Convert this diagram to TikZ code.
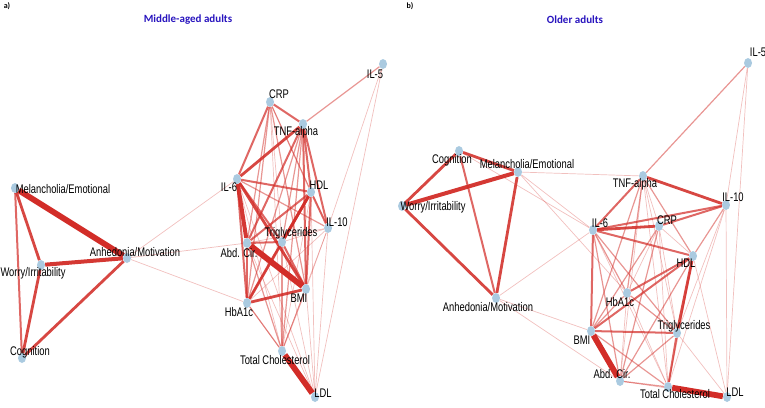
\documentclass[tikz,border=0pt]{standalone}
\usepackage{fontspec}
\setmainfont{Liberation Sans}
\newfontfamily\labfont[FakeStretch=0.75]{Liberation Sans}
\newfontfamily\titlefont{Carlito}
\usepackage{xcolor}
\usepackage{tikz}
\usetikzlibrary{shapes.geometric, backgrounds}

\definecolor{edgered}{RGB}{210,45,40}
\definecolor{nodeblue}{RGB}{170,202,224}
\definecolor{titleblue}{RGB}{40,20,190}

\begin{document}
\begin{tikzpicture}[
  x=1pt, y=-1pt,
  vert/.style={ellipse, fill=nodeblue, minimum width=8pt, minimum height=10pt, inner sep=0pt},
  lbl/.style={font=\labfont\fontsize{12.5}{12.5}\selectfont, inner sep=0pt, text=black},
  ttl/.style={font=\titlefont\bfseries\fontsize{11}{11}\selectfont, text=titleblue, inner sep=0pt},
  tag/.style={font=\titlefont\bfseries\fontsize{8}{8}\selectfont, inner sep=0pt},
  e1/.style={draw=edgered, draw opacity=0.3, line width=0.7pt},
  e2/.style={draw=edgered, draw opacity=0.5, line width=1.2pt},
  e3/.style={draw=edgered, draw opacity=0.72, line width=2pt},
  e4/.style={draw=edgered, draw opacity=0.88, line width=2.8pt},
  e5/.style={draw=edgered, draw opacity=0.95, line width=4pt},
  e6/.style={draw=edgered, line width=5.8pt}
]
\useasboundingbox (0,0) rectangle (765,407);

% panel a
\node[tag] (taga) at (7,6) {a)};
\node[ttl] (ttla) at (188,20) {Middle-aged adults};

\node[vert] (mmel) at (15,188) {};
\node[vert] (mwor) at (41,265) {};
\node[vert] (mcog) at (22,358) {};
\node[vert] (manh) at (127,258) {};
\node[vert] (mil5) at (383,64) {};
\node[vert] (mcrp) at (270,102) {};
\node[vert] (mtnf) at (303,124) {};
\node[vert] (mil6) at (237,179) {};
\node[vert] (mhdl) at (311,192) {};
\node[vert] (mil10) at (328,228) {};
\node[vert] (mtg) at (282,242) {};
\node[vert] (mabd) at (247,243) {};
\node[vert] (mbmi) at (306,289) {};
\node[vert] (mhba) at (247,303) {};
\node[vert] (mtc) at (282,351) {};
\node[vert] (mldl) at (315,397) {};

\node[lbl] (mmel-t) at (63,189) {Melancholia/Emotional};
\node[lbl] (mwor-t) at (33,273) {Worry/Irritability};
\node[lbl] (mcog-t) at (30,352) {Cognition};
\node[lbl] (manh-t) at (135,252) {Anhedonia/Motivation};
\node[lbl] (mil5-t) at (375,74) {IL-5};
\node[lbl] (mcrp-t) at (279,94) {CRP};
\node[lbl] (mtnf-t) at (296,132) {TNF-alpha};
\node[lbl] (mil6-t) at (229,187) {IL-6};
\node[lbl] (mhdl-t) at (319,185) {HDL};
\node[lbl] (mil10-t) at (337,222) {IL-10};
\node[lbl] (mtg-t) at (291,233) {Triglycerides};
\node[lbl] (mabd-t) at (239,253) {Abd. Cir.};
\node[lbl] (mbmi-t) at (299,298) {BMI};
\node[lbl] (mhba-t) at (239,312) {HbA1c};
\node[lbl] (mtc-t) at (275,360) {Total Cholesterol};
\node[lbl] (mldl-t) at (323,393) {LDL};

% panel b
\node[tag] (tagb) at (410,6) {b)};
\node[ttl] (ttlb) at (575,20) {Older adults};

\node[vert] (omel) at (518,172) {};
\node[vert] (owor) at (402,206) {};
\node[vert] (ocog) at (459,151) {};
\node[vert] (oanh) at (496,298) {};
\node[vert] (oil5) at (748,63) {};
\node[vert] (otnf) at (643,176) {};
\node[vert] (oil10) at (726,205) {};
\node[vert] (oil6) at (593,230) {};
\node[vert] (ocrp) at (659,226) {};
\node[vert] (ohdl) at (693,256) {};
\node[vert] (ohba) at (627,293) {};
\node[vert] (obmi) at (591,331) {};
\node[vert] (otg) at (677,333) {};
\node[vert] (oabd) at (620,381) {};
\node[vert] (otc) at (668,387) {};
\node[vert] (oldl) at (727,397) {};

\node[lbl] (omel-t) at (527,164) {Melancholia/Emotional};
\node[lbl] (owor-t) at (433,207) {Worry/Irritability};
\node[lbl] (ocog-t) at (452,160) {Cognition};
\node[lbl] (oanh-t) at (488,307) {Anhedonia/Motivation};
\node[lbl] (oil5-t) at (758,52) {IL-5};
\node[lbl] (otnf-t) at (635,184) {TNF-alpha};
\node[lbl] (oil10-t) at (733,197) {IL-10};
\node[lbl] (oil6-t) at (600,223) {IL-6};
\node[lbl] (ocrp-t) at (667,220) {CRP};
\node[lbl] (ohdl-t) at (686,263) {HDL};
\node[lbl] (ohba-t) at (620,302) {HbA1c};
\node[lbl] (otg-t) at (684,326) {Triglycerides};
\node[lbl] (obmi-t) at (582,340) {BMI};
\node[lbl] (oabd-t) at (612,374) {Abd. Cir.};
\node[lbl] (otc-t) at (675,394) {Total Cholesterol};
\node[lbl] (oldl-t) at (735,392) {LDL};

\begin{scope}[on background layer]
% weak links
\foreach \a/\b in {mil5/mil10, mil5/mldl, manh/mil6, manh/mabd, manh/mhba, mcrp/mtg, mcrp/mil10,
  mil10/mtg, mil10/mabd, mil10/mbmi, mil10/mhba, mil10/mldl, mil10/mtc, mhdl/mldl, mhdl/mtc,
  mil6/mtc, mbmi/mldl, mhba/mldl, mabd/mldl, mtg/mldl, mil6/mldl, mcrp/mtc,
  oil5/oil10, oil5/oldl, omel/otnf, omel/oil6, ocog/oil6, omel/ohba, oanh/oil6, oanh/obmi,
  oanh/oabd, otnf/ocrp, otnf/oabd, otnf/otg, otnf/otc, ocrp/ohdl, ocrp/ohba, ocrp/otg, ocrp/otc,
  oil10/otg, oil10/oldl, oil10/otc, oil6/otc, ohdl/oldl, otg/oldl, ohba/oabd, ohba/otc, oabd/oldl}
  \draw[e1] (\a) -- (\b);
\foreach \a/\b in {mcrp/mabd, mcrp/mhdl, mcrp/mbmi, mcrp/mhba, mtnf/mhba, mtnf/mtg, mil6/mil10,
  mtg/mhba, mbmi/mtc, mhba/mtc, mtg/mtc, mil5/mtnf, mabd/mtc, mtnf/mtc,
  oil6/oabd, oil6/ohba, oil6/otg, ocrp/obmi, ocrp/oabd, otnf/ohdl, ohba/otg, ohba/obmi,
  ohdl/oabd, oabd/otg, obmi/otc, oil10/ohdl, otnf/ohba, oil5/otnf, ohdl/otc, oabd/otc, otnf/obmi}
  \draw[e2] (\a) -- (\b);
\foreach \a/\b in {mmel/mcog, mcrp/mil6, mil6/mhdl, mil6/mtg, mil6/mhba, mtnf/mhdl, mtnf/mabd,
  mcrp/mtnf, mhdl/mabd, mhdl/mbmi, mtg/mabd, mabd/mhba, mtg/mbmi, mtnf/mbmi, mhdl/mil10, mtnf/mil10,
  ocog/oanh, otnf/oil6, oil6/oil10, ocrp/oil10, ohdl/ohba, oil6/obmi, otg/otc, ohdl/obmi,
  obmi/otg, oil6/ohdl}
  \draw[e3] (\a) -- (\b);
% strong links
\foreach \a/\b in {mmel/mwor, mwor/mcog, mcog/manh, mil6/mtnf, mhdl/mhba, mhdl/mtg, mil6/mbmi,
  mbmi/mhba, ocog/omel, owor/oanh, omel/oanh, ocog/owor, otnf/oil10, oil6/ocrp, ohdl/otg}
  \draw[e4] (\a) -- (\b);
\foreach \a/\b in {mwor/manh, mil6/mabd, omel/owor}
  \draw[e5] (\a) -- (\b);
\foreach \a/\b in {mabd/mbmi, mtc/mldl, mmel/manh, obmi/oabd, otc/oldl}
  \draw[e6] (\a) -- (\b);
\end{scope}
\end{tikzpicture}
\end{document}
